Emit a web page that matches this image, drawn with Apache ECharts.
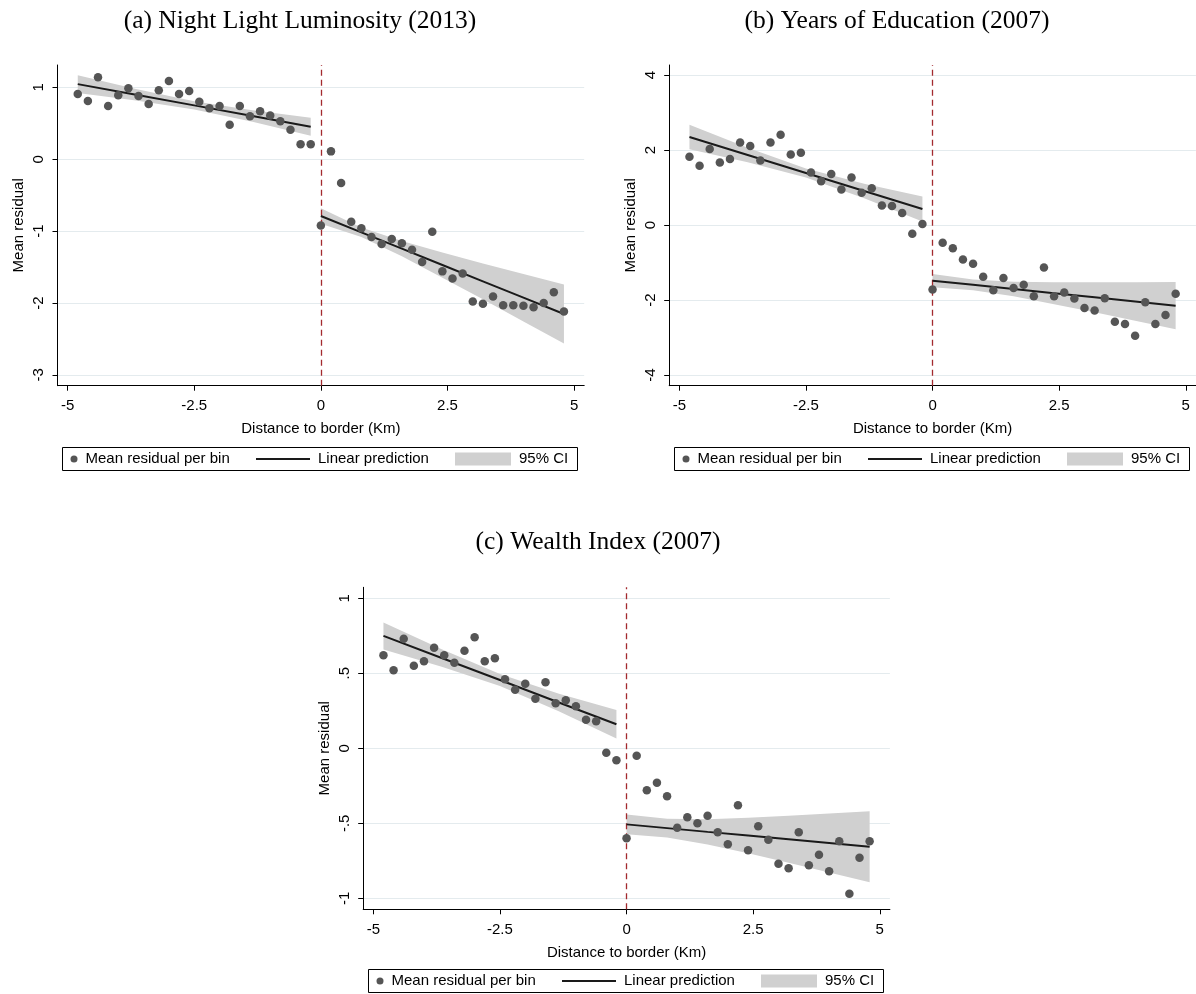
<!DOCTYPE html>
<html><head><meta charset="utf-8">
<script src="https://cdn.jsdelivr.net/npm/echarts@6/dist/echarts.min.js"></script>
<style>html,body{margin:0;padding:0;background:#fff}#c{width:1196px;height:994px}</style>
</head><body><div id="c"></div>
<script>
// ---------- data ----------
const binXLeft  = [-4.8,-4.6,-4.4,-4.2,-4.0,-3.8,-3.6,-3.4,-3.2,-3.0,-2.8,-2.6,-2.4,-2.2,-2.0,-1.8,-1.6,-1.4,-1.2,-1.0,-0.8,-0.6,-0.4,-0.2];
const binXRight = [0,0.2,0.4,0.6,0.8,1.0,1.2,1.4,1.6,1.8,2.0,2.2,2.4,2.6,2.8,3.0,3.2,3.4,3.6,3.8,4.0,4.2,4.4,4.6,4.8];

const nightLeft  = [0.91,0.81,1.14,0.74,0.89,0.99,0.88,0.77,0.96,1.09,0.91,0.95,0.80,0.71,0.74,0.48,0.74,0.60,0.67,0.61,0.53,0.41,0.21,0.21];
const nightRight = [-0.92,0.11,-0.33,-0.87,-0.96,-1.08,-1.18,-1.11,-1.17,-1.26,-1.43,-1.01,-1.56,-1.66,-1.59,-1.98,-2.01,-1.91,-2.03,-2.03,-2.04,-2.06,-2.00,-1.85,-2.12];
const eduLeft    = [1.82,1.58,2.03,1.67,1.76,2.20,2.11,1.72,2.20,2.41,1.88,1.93,1.40,1.17,1.36,0.95,1.27,0.86,0.98,0.52,0.51,0.32,-0.23,0.03];
const eduRight   = [-1.72,-0.47,-0.62,-0.92,-1.03,-1.38,-1.74,-1.41,-1.68,-1.59,-1.90,-1.13,-1.90,-1.80,-1.96,-2.21,-2.28,-1.95,-2.58,-2.64,-2.95,-2.06,-2.64,-2.40,-1.83];
const wealthLeft = [0.62,0.52,0.73,0.55,0.58,0.67,0.62,0.57,0.65,0.74,0.58,0.60,0.46,0.39,0.43,0.33,0.44,0.30,0.32,0.28,0.19,0.18,-0.03,-0.08];
const wealthRight= [-0.60,-0.05,-0.28,-0.23,-0.32,-0.53,-0.46,-0.50,-0.45,-0.56,-0.64,-0.38,-0.68,-0.52,-0.61,-0.77,-0.80,-0.56,-0.78,-0.71,-0.82,-0.62,-0.97,-0.73,-0.62];

const ciXLeft  = [-4.8,-3.65,-2.5,-1.35,-0.2];
const ciXRight = [0,0.8,1.6,2.4,3.2,4.0,4.8];

const nightFitLeft  = [1.046,0.898,0.750,0.601,0.453];
const nightHiLeft   = [1.170,0.978,0.808,0.681,0.579];
const nightLoLeft   = [0.922,0.818,0.692,0.521,0.327];
const nightFitRight = [-0.790,-1.017,-1.244,-1.472,-1.699,-1.926,-2.153];
const nightHiRight  = [-0.683,-0.951,-1.139,-1.297,-1.449,-1.596,-1.743];
const nightLoRight  = [-0.897,-1.083,-1.349,-1.647,-1.949,-2.256,-2.563];

const eduFitLeft  = [2.347,1.867,1.387,0.907,0.427];
const eduHiLeft   = [2.672,2.062,1.507,1.102,0.760];
const eduLoLeft   = [2.022,1.672,1.267,0.712,0.094];
const eduFitRight = [-1.484,-1.595,-1.706,-1.818,-1.929,-2.040,-2.151];
const eduHiRight  = [-1.307,-1.452,-1.510,-1.526,-1.529,-1.526,-1.521];
const eduLoRight  = [-1.661,-1.738,-1.902,-2.110,-2.329,-2.554,-2.781];

const wealthFitLeft  = [0.749,0.602,0.455,0.307,0.160];
const wealthHiLeft   = [0.839,0.660,0.495,0.365,0.255];
const wealthLoLeft   = [0.659,0.544,0.415,0.249,0.065];
const wealthFitRight = [-0.507,-0.532,-0.557,-0.581,-0.606,-0.631,-0.656];
const wealthHiRight  = [-0.441,-0.470,-0.473,-0.463,-0.450,-0.435,-0.419];
const wealthLoRight  = [-0.573,-0.594,-0.641,-0.699,-0.762,-0.827,-0.893];

const xTicks      = [-5,-2.5,0,2.5,5];
const nightYTicks = [-3,-2,-1,0,1];
const eduYTicks   = [-4,-2,0,2,4];
const wealthYTicks= [-1,-0.5,0,0.5,1];

const titles = ['(a) Night Light Luminosity (2013)','(b) Years of Education (2007)','(c) Wealth Index (2007)'];
const xName = 'Distance to border (Km)';
const yName = 'Mean residual';
const legendNames = ['Mean residual per bin','Linear prediction','95% CI'];

// ---------- layout / style ----------
const SANS = 'Liberation Sans, Arial, Helvetica, sans-serif';
const SERIF = 'Liberation Serif, Times New Roman, serif';
const DOT = '#555555', FIT = '#1a1a1a', BAND = '#d0d0d0', GRID = '#e4ebee', RED = '#a32a2e';

const panels = [
  {left:[nightLeft, nightFitLeft, nightLoLeft, nightHiLeft], right:[nightRight, nightFitRight, nightLoRight, nightHiRight], yTicks:nightYTicks,
   box:{left:57.5, top:65, width:526.7, height:320.7}, ymin:-3.151, ymax:1.312, tx:300, ty:21, leg:[62.5,447.5]},
  {left:[eduLeft, eduFitLeft, eduLoLeft, eduHiLeft], right:[eduRight, eduFitRight, eduLoRight, eduHiRight], yTicks:eduYTicks,
   box:{left:669.2, top:65, width:526.7, height:320.7}, ymin:-4.285, ymax:4.267, tx:897, ty:21, leg:[674.5,447.5]},
  {left:[wealthLeft, wealthFitLeft, wealthLoLeft, wealthHiLeft], right:[wealthRight, wealthFitRight, wealthLoRight, wealthHiRight], yTicks:wealthYTicks,
   box:{left:363.2, top:587.3, width:526.7, height:322}, ymin:-1.073, ymax:1.073, tx:598, ty:542, leg:[368.5,969.5]}
];

const zip = (a,b) => a.map((v,k)=>[v,b[k]]);
const fmt = v => String(v).replace(/^(-?)0\./,'$1.');

function band(i, xs, lo, hi){
  const data = xs.map((x,k)=>[x, lo[k], hi[k]]);
  return {type:'custom', name:legendNames[2], xAxisIndex:i, yAxisIndex:i, z:1, silent:true,
    itemStyle:{color:BAND}, encode:{x:0, y:[1,2]}, data,
    renderItem:(params, api)=>{
      if (params.dataIndex !== 0) return null;
      const pts = [];
      data.forEach(d=>pts.push(api.coord([d[0], d[2]])));
      for (let k=data.length-1;k>=0;k--) pts.push(api.coord([data[k][0], data[k][1]]));
      return {type:'polygon', shape:{points:pts}, style:{fill:BAND, stroke:null}};
    }};
}

const grid=[], xAxis=[], yAxis=[], series=[], legend=[], graphic=[];
panels.forEach((p,i)=>{
  grid.push(Object.assign({containLabel:false, outerBoundsMode:'none'}, p.box));
  xAxis.push({type:'value', gridIndex:i, min:-5.2, max:5.2,
    name:xName, nameLocation:'middle', nameGap:36, nameTextStyle:{fontFamily:SANS, fontSize:15, color:'#000'},
    axisLine:{show:true, onZero:false, lineStyle:{color:'#000', width:1}},
    axisTick:{show:true, length:5, customValues:xTicks, lineStyle:{color:'#000', width:1}},
    axisLabel:{show:true, customValues:xTicks, margin:13, fontFamily:SANS, fontSize:15, color:'#000', formatter:fmt},
    splitLine:{show:false}});
  yAxis.push({type:'value', gridIndex:i, min:p.ymin, max:p.ymax,
    name:yName, nameLocation:'middle', nameGap:31, nameRotate:90, nameTextStyle:{fontFamily:SANS, fontSize:15, color:'#000'},
    axisLine:{show:true, onZero:false, lineStyle:{color:'#000', width:1}},
    axisTick:{show:true, length:5, customValues:p.yTicks, lineStyle:{color:'#000', width:1}},
    axisLabel:{show:true, customValues:p.yTicks, rotate:90, margin:11, fontFamily:SANS, fontSize:15, color:'#000', formatter:fmt},
    splitLine:{show:false}});

  series.push(band(i, ciXLeft, p.left[2], p.left[3]));
  series.push(band(i, ciXRight, p.right[2], p.right[3]));
  series.push({type:'line', name:legendNames[1], xAxisIndex:i, yAxisIndex:i, z:3, silent:true,
    data:zip(ciXLeft, p.left[1]), showSymbol:false, symbol:'none', color:FIT, lineStyle:{color:FIT, width:2},
    markLine:{silent:true, z:0, symbol:['none','none'], label:{show:false}, animation:false,
      lineStyle:{color:GRID, width:1, type:'solid'}, emphasis:{disabled:true},
      data:p.yTicks.map(v=>({yAxis:v}))}});
  series.push({type:'line', name:legendNames[1], xAxisIndex:i, yAxisIndex:i, z:3, silent:true,
    data:zip(ciXRight, p.right[1]), showSymbol:false, symbol:'none', color:FIT, lineStyle:{color:FIT, width:2}});
  series.push({type:'scatter', name:legendNames[0], xAxisIndex:i, yAxisIndex:i, z:4, silent:true,
    data:zip(binXLeft, p.left[0]).concat(zip(binXRight, p.right[0])),
    symbol:'circle', symbolSize:8.5, itemStyle:{color:DOT, opacity:1},
    markLine:{silent:true, z:3, symbol:['none','none'], label:{show:false}, animation:false, emphasis:{disabled:true},
      lineStyle:{color:RED, width:1.3, type:[6,4]}, data:[{xAxis:0}]}});

  const bx = p.leg[0], by = p.leg[1], cy = by + 11.5;
  const ts = {fontFamily:SANS, fontSize:15, color:'#000', lineHeight:16};
  legend.push({data:[{name:legendNames[0], icon:'circle', itemStyle:{color:DOT}}], left:bx+8, top:cy-8, padding:0,
    itemWidth:7, itemHeight:7, selectedMode:false, itemStyle:{borderWidth:0}, textStyle:Object.assign({padding:[0,0,0,3]}, ts)});
  legend.push({data:[{name:legendNames[1], icon:'rect', itemStyle:{color:FIT}}], left:bx+193.5, top:cy-8, padding:0,
    itemWidth:54, itemHeight:2, selectedMode:false, itemStyle:{borderWidth:0}, textStyle:Object.assign({padding:[0,0,0,3]}, ts)});
  legend.push({data:[{name:legendNames[2], icon:'rect', itemStyle:{color:BAND}}], left:bx+392.5, top:cy-8, padding:0,
    itemWidth:56, itemHeight:13, selectedMode:false, itemStyle:{borderWidth:0}, textStyle:Object.assign({padding:[0,0,0,3]}, ts)});
  graphic.push({type:'rect', silent:true, shape:{x:bx, y:by, width:515, height:23}, style:{fill:'none', stroke:'#000', lineWidth:1}});
  graphic.push({type:'text', silent:true, x:p.tx, y:p.ty, style:{text:titles[i], fontFamily:SERIF, fontSize:25.5, fill:'#000', textAlign:'center', textVerticalAlign:'middle'}});
});

const chart = echarts.init(document.getElementById('c'), null, {renderer:'canvas'});
chart.setOption({backgroundColor:'#fff', animation:false, grid, xAxis, yAxis, series, legend, graphic});
</script></body></html>
